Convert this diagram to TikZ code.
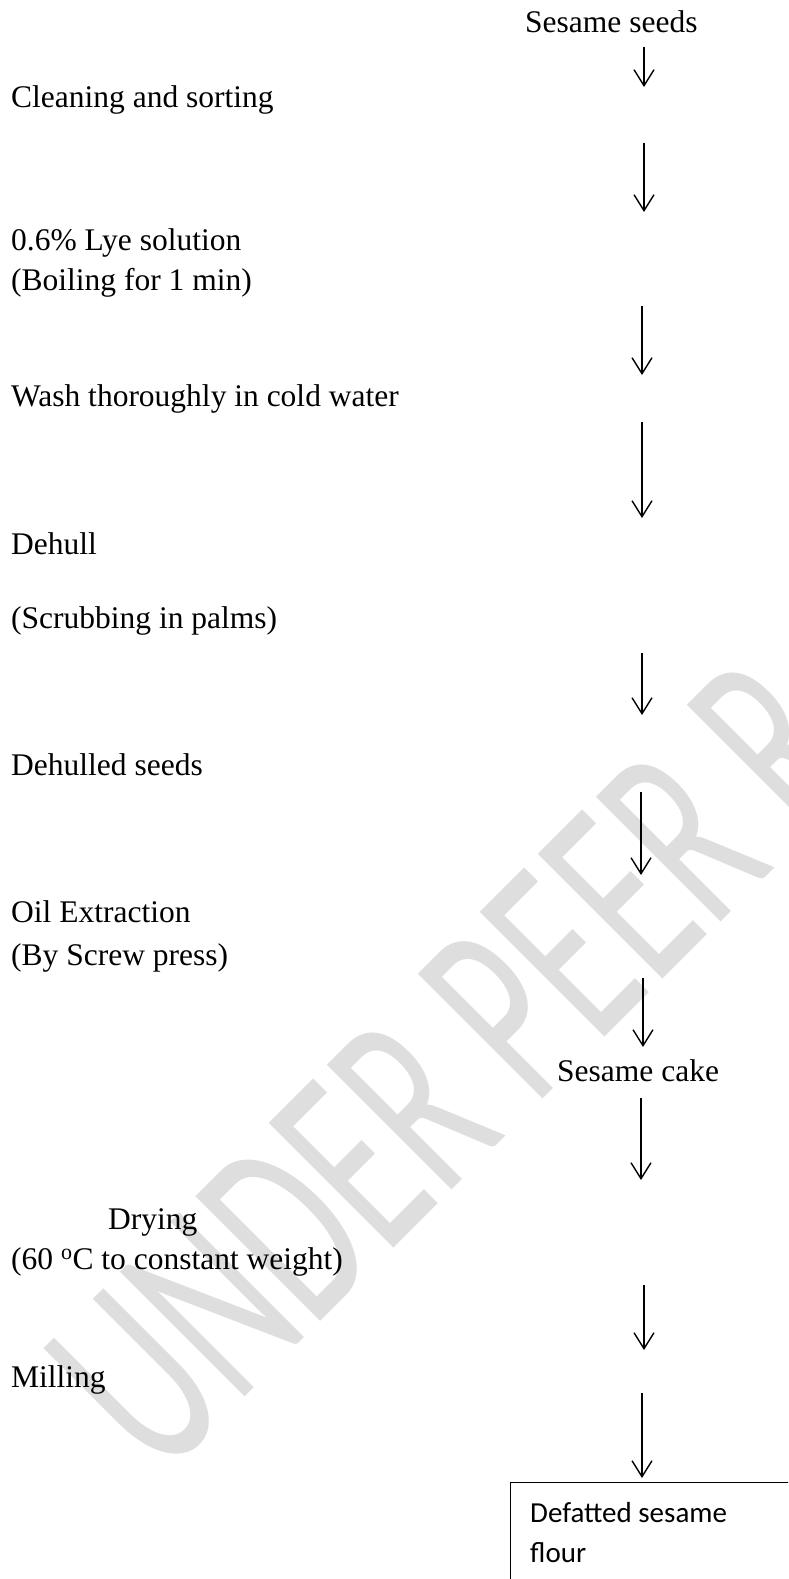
\documentclass[tikz,border=0pt]{standalone}
\usepackage{fontspec}
\setmainfont{Liberation Serif}
\newfontfamily\boxfont{Carlito}
\newfontfamily\markfont{Carlito}
\usepackage{tikz}
\usetikzlibrary{arrows.meta}
\usetikzlibrary{calc}

\tikzset{
  steptext/.style={anchor=base west, inner sep=0pt, font=\fontsize{31.5}{38}\selectfont},
  flowarrow/.style={line width=1.4pt, -{Straight Barb[length=16pt,width=20pt]}},
  flourbox/.style={draw, line width=1pt, anchor=north west, inner sep=0pt, minimum width=320pt, minimum height=140pt},
  boxtext/.style={anchor=base west, inner sep=0pt, font=\boxfont\fontsize{29}{34}\selectfont},
  watermark/.style={anchor=base west, inner sep=0pt, rotate=45, xscale=0.61, text=black!13, font=\markfont\fontsize{275}{275}\selectfont}
}

\begin{document}
\begin{tikzpicture}[x=1pt,y=-1pt]
            \useasboundingbox (0,0) rectangle (788,1579);
            \clip (0,0) rectangle (788,1579);
                \node[watermark] (wm) at (160,1482) {UNDER PEER R};
                \node[steptext] (seeds) at (525,33) {Sesame seeds};
                \node[steptext] (clean) at (11,107) {Cleaning and sorting};
                \node[steptext] (lye) at (11,250) {0.6\% Lye solution};
                \node[steptext] (boil) at (11,290) {(Boiling for 1 min)};
                \node[steptext] (wash) at (11,406) {Wash thoroughly in cold water};
                \node[steptext] (dehull) at (11,554) {Dehull};
                \node[steptext] (scrub) at (11,628) {(Scrubbing in palms)};
                \node[steptext] (dehulled) at (11,775) {Dehulled seeds};
                \node[steptext] (oil) at (11,922) {Oil Extraction};
                \node[steptext] (press) at (11,965) {(By Screw press)};
                \node[steptext] (cake) at (557,1081) {Sesame cake};
                \node[steptext] (dry) at (108,1229) {Drying};
                \node[steptext] (temp) at (11,1269) {(60 \textsuperscript{o}C to constant weight)};
                \node[steptext] (mill) at (11,1387) {Milling};
                \node[flourbox] (flour) at (510,1482) {};
                \node[boxtext] (flourA) at ($(flour.north west)+(20,40)$) {Defatted sesame};
                \node[boxtext] (flourB) at ($(flour.north west)+(20,80)$) {flour};
                \foreach \x/\ya/\yb [count=\i] in {644/47/87, 644/143/212, 642/306/375, 642/422/518, 642/653/715, 641/792/875, 643/978/1047, 641/1098/1180, 644/1285/1350, 642/1393/1478}{
                    \coordinate (top\i) at (\x,\ya);
                    \coordinate (tip\i) at (\x,\yb);
                    \draw[flowarrow] (top\i) -- (tip\i);
                }
\end{tikzpicture}
\end{document}
